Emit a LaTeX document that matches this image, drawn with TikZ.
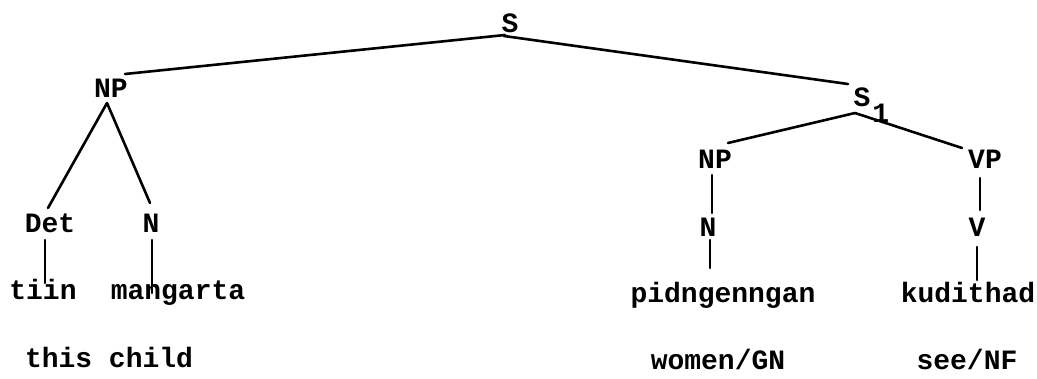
\documentclass[tikz,border=0pt]{standalone}
\usepackage{fontspec}
\setmonofont{Liberation Mono}
\begin{document}
\begin{tikzpicture}[x=1pt,y=1pt,
  lab/.style={anchor=base,inner sep=0pt,outer sep=0pt,font=\ttfamily\bfseries\fontsize{28}{30}\selectfont},
  edge/.style={line width=2.6pt,line cap=round}]
\useasboundingbox[fill=white] (0,0) rectangle (1037,378);
% nodes
\node[lab] (S) at (510,345) {S};
\node[lab] (NPa) at (111,280) {NP};
\node[lab] (S1) at (862,271) {S\rlap{\smash{\raisebox{-16pt}{\hspace{2pt}1}}}};
\node[lab] (Det) at (50,145) {Det};
\node[lab] (Na) at (151,145) {N};
\node[lab] (tiin) at (43,78) {tiin};
\node[lab] (mang) at (178,78) {mangarta};
\node[lab,anchor=base west] (glossa) at (25,11) {this child};
\node[lab] (NPb) at (715,209) {NP};
\node[lab] (VP) at (985,209) {VP};
\node[lab] (Nb) at (708,141) {N};
\node[lab] (V) at (977,141) {V};
\node[lab] (pidng) at (723,75) {pidngenngan};
\node[lab] (kud) at (968,75) {kudithad};
\node[lab] (glossb) at (718,9) {women/GN};
\node[lab] (glossc) at (967,9) {see/NF};
% connectors
\draw[edge] ([shift={(-5pt,-2pt)}]S.base) -- ([shift={(14pt,24pt)}]NPa.base);
\draw[edge] ([shift={(-6pt,-3pt)}]S.base) -- ([shift={(-14pt,23pt)}]S1.base);
\draw[edge] ([shift={(-4pt,-5pt)}]NPa.base) -- ([shift={(-2pt,25pt)}]Det.base);
\draw[edge] ([shift={(-4pt,-5pt)}]NPa.base) -- ([shift={(-1pt,30pt)}]Na.base);
\draw[edge] ([shift={(-5pt,-7pt)}]Det.base) -- ([shift={(2pt,17pt)}]tiin.base);
\draw[edge] ([shift={(1pt,-7pt)}]Na.base) -- ([shift={(-26pt,7pt)}]mang.base);
\draw[edge] ([shift={(-7pt,-6pt)}]S1.base) -- ([shift={(13pt,26pt)}]NPb.base);
\draw[edge] ([shift={(-7pt,-6pt)}]S1.base) -- ([shift={(-23pt,21pt)}]VP.base);
\draw[edge] ([shift={(-3pt,-6pt)}]NPb.base) -- ([shift={(4pt,24pt)}]Nb.base);
\draw[edge] ([shift={(-5pt,-9pt)}]VP.base) -- ([shift={(3pt,27pt)}]V.base);
\draw[edge] ([shift={(2pt,-3pt)}]Nb.base) -- ([shift={(-13pt,35pt)}]pidng.base);
\draw[edge] ([shift={(0pt,-10pt)}]V.base) -- ([shift={(9pt,23pt)}]kud.base);
\end{tikzpicture}
\end{document}
